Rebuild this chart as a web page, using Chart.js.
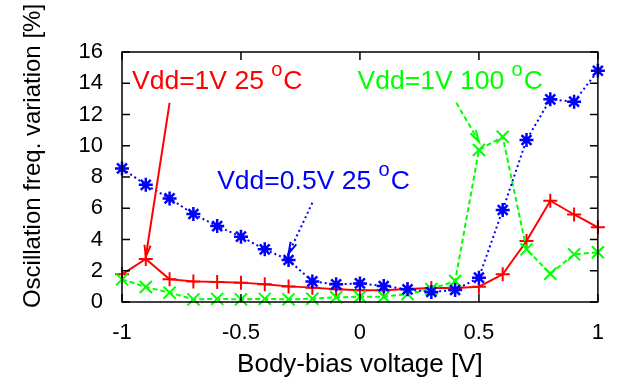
<!DOCTYPE html>
<html>
<head>
<meta charset="utf-8">
<script src="https://cdn.jsdelivr.net/npm/chart.js@4.4.1/dist/chart.umd.min.js"></script>
<style>
  html, body { margin: 0; padding: 0; background: #fff; }
</style>
</head>
<body>
<canvas id="chart" width="622" height="387"></canvas>
<script>
// body-bias voltage [V]
const biasVoltage = [-1, -0.9, -0.8, -0.7, -0.6, -0.5, -0.4, -0.3, -0.2, -0.1, 0,
                     0.1, 0.2, 0.3, 0.4, 0.5, 0.6, 0.7, 0.8, 0.9, 1];

// oscillation freq. variation [%]
const vdd1v25c = [1.77, 2.75, 1.45, 1.32, 1.28, 1.24, 1.13, 1.0, 0.92, 0.81, 0.75,
                  0.75, 0.83, 0.9, 0.9, 0.98, 1.77, 3.9, 6.48, 5.6, 4.78];
const vdd1v100c = [1.45, 0.96, 0.6, 0.17, 0.2, 0.17, 0.2, 0.17, 0.21, 0.3, 0.34,
                   0.34, 0.51, 0.83, 1.34, 9.73, 10.58, 3.37, 1.81, 3.05, 3.18];
const vdd05v25c = [8.55, 7.5, 6.63, 5.63, 4.86, 4.18, 3.37, 2.69, 1.32, 1.13, 1.19,
                   1.02, 0.81, 0.64, 0.77, 1.56, 5.89, 10.37, 12.97, 12.82, 14.8];

const xTickValues = [-1, -0.5, 0, 0.5, 1];
const xTickLabels = ['-1', '-0.5', '0', '0.5', '1'];
const yTickValues = [0, 2, 4, 6, 8, 10, 12, 14, 16];
const yTickLabels = ['0', '2', '4', '6', '8', '10', '12', '14', '16'];

const xTitle = 'Body-bias voltage [V]';
const yTitle = 'Oscillation freq. variation [%]';

// labels with arrows, in data coordinates
const notes = [
  { text: 'Vdd=1V 25 ', sup: 'o', tail: 'C', at: [-0.958, 13.63], from: [-0.8, 12.75], to: [-0.9, 2.9], color: '#ff0000', dash: [] },
  { text: 'Vdd=1V 100 ', sup: 'o', tail: 'C', at: [-0.01, 13.63], from: [0.405, 12.75], to: [0.5, 10.26], color: '#00ff00', dash: [5, 3] },
  { text: 'Vdd=0.5V 25 ', sup: 'o', tail: 'C', at: [-0.6, 7.25], from: [-0.2, 6.35], to: [-0.3, 3.1], color: '#0000ff', dash: [2, 3] }
];

const FONT = "'Liberation Sans', Arial, Helvetica, sans-serif";

function points(values) {
  return biasVoltage.map((x, i) => ({ x: x, y: values[i] }));
}

function drawArrow(ctx, x1, y1, x2, y2, color, dash) {
  ctx.save();
  ctx.strokeStyle = color;
  ctx.lineWidth = 2;
  ctx.setLineDash(dash);
  ctx.beginPath();
  ctx.moveTo(x1, y1);
  ctx.lineTo(x2, y2);
  ctx.stroke();
  const ang = Math.atan2(y2 - y1, x2 - x1);
  const len = 12, spread = Math.PI / 12;
  ctx.setLineDash([]);
  ctx.beginPath();
  ctx.moveTo(x2 - len * Math.cos(ang - spread), y2 - len * Math.sin(ang - spread));
  ctx.lineTo(x2, y2);
  ctx.lineTo(x2 - len * Math.cos(ang + spread), y2 - len * Math.sin(ang + spread));
  ctx.stroke();
  ctx.restore();
}

// gnuplot style frame, inner ticks, titles and notes
const gnuplotLook = {
  id: 'gnuplotLook',
  afterDraw(chart) {
    const ctx = chart.ctx;
    const area = chart.chartArea;
    const xs = chart.scales.x, ys = chart.scales.y;
    const tick = 8;

    ctx.save();
    ctx.strokeStyle = '#000';
    ctx.lineWidth = 1.5;
    ctx.strokeRect(area.left, area.top, area.right - area.left, area.bottom - area.top);
    ctx.beginPath();
    xTickValues.forEach(v => {
      const px = xs.getPixelForValue(v);
      ctx.moveTo(px, area.bottom); ctx.lineTo(px, area.bottom - tick);
      ctx.moveTo(px, area.top); ctx.lineTo(px, area.top + tick);
    });
    yTickValues.forEach(v => {
      const py = ys.getPixelForValue(v);
      ctx.moveTo(area.left, py); ctx.lineTo(area.left + tick, py);
      ctx.moveTo(area.right, py); ctx.lineTo(area.right - tick, py);
    });
    ctx.stroke();

    // axis titles
    ctx.fillStyle = '#000';
    ctx.textAlign = 'center';
    ctx.textBaseline = 'middle';
    ctx.font = '26px ' + FONT;
    ctx.fillText(xTitle, (area.left + area.right) / 2, area.bottom + 63);
    ctx.font = '24px ' + FONT;
    ctx.save();
    ctx.translate(33, 156);
    ctx.rotate(-Math.PI / 2);
    ctx.fillText(yTitle, 0, 0);
    ctx.restore();

    // notes
    ctx.textAlign = 'left';
    ctx.textBaseline = 'alphabetic';
    notes.forEach(n => {
      drawArrow(ctx, xs.getPixelForValue(n.from[0]), ys.getPixelForValue(n.from[1]),
                xs.getPixelForValue(n.to[0]), ys.getPixelForValue(n.to[1]), n.color, n.dash);
      const px = xs.getPixelForValue(n.at[0]);
      const py = ys.getPixelForValue(n.at[1]);
      ctx.fillStyle = n.color;
      ctx.font = '26.5px ' + FONT;
      ctx.fillText(n.text, px, py);
      let w = ctx.measureText(n.text).width;
      ctx.font = '20px ' + FONT;
      ctx.fillText(n.sup, px + w, py - 13);
      w += ctx.measureText(n.sup).width + 1;
      ctx.font = '26.5px ' + FONT;
      ctx.fillText(n.tail, px + w, py);
    });
    ctx.restore();
  }
};

new Chart(document.getElementById('chart'), {
  type: 'line',
  data: {
    datasets: [
      {
        label: 'Vdd=0.5V 25 oC',
        data: points(vdd05v25c),
        borderColor: '#0000ff',
        backgroundColor: '#0000ff',
        borderWidth: 2,
        borderDash: [2, 3],
        pointStyle: 'star',
        pointRadius: 7,
        pointBorderWidth: 2.5,
        clip: false
      },
      {
        label: 'Vdd=1V 100 oC',
        data: points(vdd1v100c),
        borderColor: '#00ff00',
        backgroundColor: '#00ff00',
        borderWidth: 2,
        borderDash: [5, 3],
        pointStyle: 'crossRot',
        pointRadius: 8.5,
        pointBorderWidth: 2,
        clip: false
      },
      {
        label: 'Vdd=1V 25 oC',
        data: points(vdd1v25c),
        borderColor: '#ff0000',
        backgroundColor: '#ff0000',
        borderWidth: 2,
        pointStyle: 'cross',
        pointRadius: 7,
        pointBorderWidth: 2,
        clip: false
      }
    ]
  },
  options: {
    responsive: false,
    animation: false,
    layout: { padding: { top: 52, right: 19, left: 0, bottom: 0 } },
    plugins: {
      legend: { display: false },
      tooltip: { enabled: false }
    },
    scales: {
      x: {
        type: 'linear',
        min: -1,
        max: 1,
        grid: { display: false, drawTicks: false },
        border: { display: false },
        afterFit: s => { s.height = 85; },
        ticks: {
          stepSize: 0.5,
          padding: 18,
          maxRotation: 0,
          autoSkip: false,
          color: '#000',
          font: { size: 22, family: FONT },
          callback: v => {
            const i = xTickValues.indexOf(v);
            return i >= 0 ? xTickLabels[i] : '';
          }
        }
      },
      y: {
        min: 0,
        max: 16,
        grid: { display: false, drawTicks: false },
        border: { display: false },
        afterFit: s => { s.width = 122; },
        ticks: {
          stepSize: 2,
          padding: 19,
          color: '#000',
          font: { size: 22, family: FONT },
          callback: v => {
            const i = yTickValues.indexOf(v);
            return i >= 0 ? yTickLabels[i] : '';
          }
        }
      }
    }
  },
  plugins: [gnuplotLook]
});
</script>
</body>
</html>
